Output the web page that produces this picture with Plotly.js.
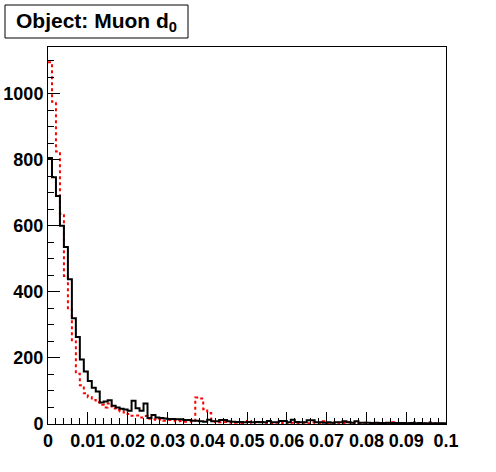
<!DOCTYPE html>
<html>
<head>
<meta charset="utf-8">
<script src="https://cdn.plot.ly/plotly-3.0.1.min.js"></script>
<style>
html,body{margin:0;padding:0;background:#fff;}
#chart{width:496px;height:472px;}
</style>
</head>
<body>
<div id="chart"></div>
<script>
// Histogram definition: 100 bins from 0 to 0.1
const nBins = 100;
const xMin = 0;
const xMax = 0.1;

// Series values (counts per bin)
const blackCounts = [
  805, 747, 690, 600, 536, 438, 320, 263, 195, 159,
  130, 110,  98,  65,  68,  72,  55,  50,  46,  44,
   40,  70,  48,  40,  62,  18,  27,  20,  18,  17,
   15,  15,  14,  14,  12,  12,  10,  10,   8,   7,
   13,   8,   8,  12,  12,   8,   7,   6,   6,   5,
    6,   5,   6,   5,   5,   9,   5,   5,   9,   9,
    5,  13,   6,   5,   5,  11,  11,   5,   5,   4,
    5,   4,   5,   5,   8,   5,   4,   8,   4,   4,
    4,   3,   4,   3,   3,   4,   3,   3,   3,   3,
    2,   3,   2,   3,   2,   2,   2,   2,   2,   2
];
const redCounts = [
  1095, 975, 825, 636, 448, 347, 250, 152, 117,  93,
    81,  73,  66,  58,  50,  62,  47,  42,  38,  35,
    30,  25,  26,  20,  24,  16,  14,  12,  14,  10,
    12,  10,   8,   9,   7,   8,   7,  80,  77,  45,
    33,   8,   6,   5,   6,   4,   5,   4,   3,   5,
     9,   4,   5,   6,   3,   4,   2,   4,   3,   5,
     2,   4,   3,   3,   4,   2,   5,   3,   3,   8,
     3,   2,   4,   2,   3,   5,   2,   3,   2,   4,
     2,   2,   3,   2,   2,   3,   5,   2,   2,   3,
     2,   2,   5,   2,   2,   5,   5,   2,   1,   1
];

// Tick labels
const xTickVals = [0, 0.01, 0.02, 0.03, 0.04, 0.05, 0.06, 0.07, 0.08, 0.09, 0.1];
const xTickText = ["0", "0.01", "0.02", "0.03", "0.04", "0.05", "0.06", "0.07", "0.08", "0.09", "0.1"];
const yTickVals = [0, 200, 400, 600, 800, 1000];
const yTickText = ["0", "200", "400", "600", "800", "1000"];
const titleText = "Object: Muon d<sub>0</sub>";

// Build step outlines (bin low edges + final upper edge)
function stepTrace(counts) {
  const w = (xMax - xMin) / nBins;
  const xs = [], ys = [];
  for (let i = 0; i < counts.length; i++) {
    xs.push(xMin + i * w);
    ys.push(counts[i]);
  }
  xs.push(xMax);
  ys.push(counts[counts.length - 1]);
  return {x: xs, y: ys};
}

const b = stepTrace(blackCounts);
const r = stepTrace(redCounts);

const tickFont = {family: "Liberation Sans, Arial, sans-serif", size: 18, color: "#000", weight: "bold"};

const data = [
  {
    type: "scatter", mode: "lines", x: r.x, y: r.y,
    line: {shape: "hv", color: "#ff0000", width: 2, dash: "dot"},
    hoverinfo: "skip", showlegend: false, cliponaxis: true
  },
  {
    type: "scatter", mode: "lines", x: b.x, y: b.y,
    line: {shape: "hv", color: "#000000", width: 2},
    hoverinfo: "skip", showlegend: false, cliponaxis: true
  }
];

const L = 48, R = 50, T = 47, B = 48;
const pw = 496 - L - R, ph = 472 - T - B;
function px2paperX(px) { return (px - L) / pw; }
function px2paperY(py) { return (472 - B - py) / ph; }

const layout = {
  width: 496, height: 472,
  margin: {l: L, r: R, t: T, b: B, pad: 0},
  paper_bgcolor: "#ffffff",
  plot_bgcolor: "#ffffff",
  showlegend: false,
  xaxis: {
    range: [xMin, xMax],
    tickmode: "array", tickvals: xTickVals, ticktext: xTickText,
    ticks: "inside", ticklen: 12, tickwidth: 1, tickcolor: "#000",
    minor: {dtick: 0.002, tick0: 0, ticks: "inside", ticklen: 6, tickwidth: 1, tickcolor: "#000", showgrid: false},
    showline: true, linecolor: "#000", linewidth: 1, mirror: true,
    showgrid: false, zeroline: false,
    tickfont: tickFont
  },
  yaxis: {
    range: [0, 1141],
    tickmode: "array", tickvals: yTickVals, ticktext: yTickText,
    ticks: "inside", ticklen: 12, tickwidth: 1, tickcolor: "#000",
    minor: {dtick: 50, tick0: 0, ticks: "inside", ticklen: 6, tickwidth: 1, tickcolor: "#000", showgrid: false},
    showline: true, linecolor: "#000", linewidth: 1, mirror: true,
    showgrid: false, zeroline: false,
    tickfont: tickFont
  },
  shapes: [
    {
      type: "rect", xref: "paper", yref: "paper",
      x0: px2paperX(5), x1: px2paperX(188),
      y0: px2paperY(38), y1: px2paperY(5),
      line: {color: "#000", width: 1}, fillcolor: "#ffffff", layer: "above"
    }
  ],
  annotations: [
    {
      xref: "paper", yref: "paper",
      x: px2paperX(96.5), y: px2paperY(22),
      xanchor: "center", yanchor: "middle",
      text: titleText, showarrow: false,
      font: {family: "Liberation Sans, Arial, sans-serif", size: 21, color: "#000", weight: "bold"}
    }
  ]
};

Plotly.newPlot("chart", data, layout, {staticPlot: true, displayModeBar: false});
</script>
</body>
</html>
